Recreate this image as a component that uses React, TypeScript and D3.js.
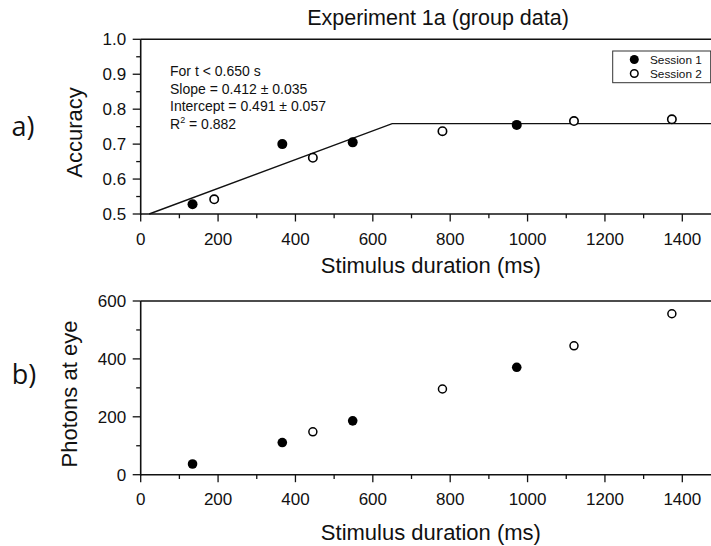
import React from "react";
import * as d3 from "d3";

// ---- data ----
const s1Duration = [134, 366, 548, 972];
const s1Accuracy = [0.528, 0.7, 0.705, 0.755];
const s2Duration = [190, 445, 780, 1120, 1373];
const s2Accuracy = [0.542, 0.661, 0.737, 0.766, 0.771];

const s1PhotonDuration = [134, 366, 548, 972];
const s1Photons = [37, 111, 186, 371];
const s2PhotonDuration = [445, 780, 1120, 1373];
const s2Photons = [148, 296, 445, 556];

const fitSlope = 0.412; // per second
const fitIntercept = 0.491;
const fitBreak = 0.65; // seconds
const annotationLines = ["For t < 0.650 s", "Slope = 0.412 ± 0.035", "Intercept = 0.491 ± 0.057"];
const r2Text = " = 0.882";

const xMajorTicks = [0, 200, 400, 600, 800, 1000, 1200, 1400];
const xMinorTicks = [100, 300, 500, 700, 900, 1100, 1300, 1500];
const accMajorTicks = [0.5, 0.6, 0.7, 0.8, 0.9, 1.0];
const accMinorTicks = [0.55, 0.65, 0.75, 0.85, 0.95];
const phMajorTicks = [0, 200, 400, 600];
const phMinorTicks = [100, 300, 500];

const FONT = "'Liberation Sans', Arial, sans-serif";

const x = d3.scaleLinear().domain([0, 1500]).range([140.7, 721]);
const yA = d3.scaleLinear().domain([0.5, 1.0]).range([214, 39.3]);
const yP = d3.scaleLinear().domain([0, 600]).range([474.7, 301]);

function XAxis({ y0 }: { y0: number }) {
  return (
    <g>
      <line x1={x(0)} x2={711} y1={y0} y2={y0} stroke="#111" strokeWidth={1.6} />
      {xMajorTicks.map((t) => (
        <g key={"M" + t}>
          <line x1={x(t)} x2={x(t)} y1={y0} y2={y0 + 7.5} stroke="#111" strokeWidth={1.3} />
          <text x={x(t)} y={y0 + 30.5} textAnchor="middle" fontSize={17} fontFamily={FONT} fill="#111">
            {t}
          </text>
        </g>
      ))}
      {xMinorTicks.map((t) => (
        <line key={"m" + t} x1={x(t)} x2={x(t)} y1={y0} y2={y0 + 4.3} stroke="#111" strokeWidth={1.3} />
      ))}
    </g>
  );
}

function YAxis({ scale, major, minor, fmt }: { scale: any; major: number[]; minor: number[]; fmt: (v: number) => string }) {
  const x0 = x(0);
  const [lo, hi] = scale.range();
  return (
    <g>
      <line x1={x0} x2={x0} y1={lo + 0.8} y2={hi} stroke="#111" strokeWidth={1.6} />
      <line x1={x0} x2={711} y1={hi} y2={hi} stroke="#111" strokeWidth={1.6} />
      {major.map((t) => (
        <g key={"M" + t}>
          <line x1={x0 - 8} x2={x0} y1={scale(t)} y2={scale(t)} stroke="#111" strokeWidth={1.3} />
          <text x={x0 - 14.5} y={scale(t)} dy="0.36em" textAnchor="end" fontSize={17} fontFamily={FONT} fill="#111">
            {fmt(t)}
          </text>
        </g>
      ))}
      {minor.map((t) => (
        <line key={"m" + t} x1={x0 - 4.5} x2={x0} y1={scale(t)} y2={scale(t)} stroke="#111" strokeWidth={1.3} />
      ))}
    </g>
  );
}

export default function App() {
  const fitFn = (ms: number) => fitIntercept + fitSlope * Math.min(ms, fitBreak * 1000) / 1000;
  const startMs = ((0.5 - fitIntercept) / fitSlope) * 1000;
  const fitPts: [number, number][] = [startMs, fitBreak * 1000, 1500].map((m) => [m, fitFn(m)]);
  const fitLine = d3
    .line<[number, number]>()
    .x((d) => x(d[0]))
    .y((d) => yA(d[1]))(fitPts);

  return (
    <svg
      width={711}
      height={546}
      style={{ position: "absolute", left: 0, top: 0, background: "#fff" }}
      fontFamily={FONT}
    >
      <rect x={0} y={0} width={711} height={546} fill="#fff" />
      {/* title */}
      <text x={438} y={25} textAnchor="middle" fontSize={21.5} fill="#111">
        Experiment 1a (group data)
      </text>

      {/* panel a */}
      <text x={23} y={126} dy="0.36em" textAnchor="middle" fontSize={27} fontFamily="'Open Sans', 'Noto Sans', sans-serif" fill="#111">
        a)
      </text>
      <text transform={`translate(82,132.5) rotate(-90)`} textAnchor="middle" fontSize={22} fill="#111">
        Accuracy
      </text>
      <YAxis scale={yA} major={accMajorTicks} minor={accMinorTicks} fmt={(v) => v.toFixed(1)} />
      <XAxis y0={214} />
      <text x={430.9} y={273} textAnchor="middle" fontSize={22} fill="#111">
        Stimulus duration (ms)
      </text>
      <path d={fitLine ?? ""} fill="none" stroke="#111" strokeWidth={1.4} />
      {annotationLines.map((l, i) => (
        <text key={l} x={170} y={76 + i * 17.7} fontSize={14} fill="#111">
          {l}
        </text>
      ))}
      <text x={170} y={76 + 3 * 17.7} fontSize={14} fill="#111">
        R
        <tspan fontSize={9} dy={-6}>
          2
        </tspan>
        <tspan dy={6}>{r2Text}</tspan>
      </text>
      {s1Duration.map((d, i) => (
        <circle key={"a1" + i} cx={x(d)} cy={yA(s1Accuracy[i])} r={5} fill="#000" />
      ))}
      {s2Duration.map((d, i) => (
        <circle key={"a2" + i} cx={x(d)} cy={yA(s2Accuracy[i])} r={4.2} fill="#fff" stroke="#000" strokeWidth={1.6} />
      ))}
      {/* legend */}
      <rect x={612.7} y={51} width={98} height={31.7} fill="#fff" stroke="#333" strokeWidth={1} />
      <circle cx={634.3} cy={59.5} r={4.5} fill="#000" />
      <circle cx={634.3} cy={73.5} r={3.8} fill="#fff" stroke="#000" strokeWidth={1.5} />
      <text x={650} y={63.5} fontSize={11.8} fill="#111">
        Session 1
      </text>
      <text x={650} y={77.5} fontSize={11.8} fill="#111">
        Session 2
      </text>

      {/* panel b */}
      <text x={24} y={374} dy="0.36em" textAnchor="middle" fontSize={27} fontFamily="'Open Sans', 'Noto Sans', sans-serif" fill="#111">
        b)
      </text>
      <text transform={`translate(77,394) rotate(-90)`} textAnchor="middle" fontSize={22} fill="#111">
        Photons at eye
      </text>
      <YAxis scale={yP} major={phMajorTicks} minor={phMinorTicks} fmt={(v) => String(v)} />
      <XAxis y0={474.7} />
      <text x={430.9} y={540} textAnchor="middle" fontSize={22} fill="#111">
        Stimulus duration (ms)
      </text>
      {s1PhotonDuration.map((d, i) => (
        <circle key={"p1" + i} cx={x(d)} cy={yP(s1Photons[i])} r={4.8} fill="#000" />
      ))}
      {s2PhotonDuration.map((d, i) => (
        <circle key={"p2" + i} cx={x(d)} cy={yP(s2Photons[i])} r={4} fill="#fff" stroke="#000" strokeWidth={1.5} />
      ))}
    </svg>
  );
}
